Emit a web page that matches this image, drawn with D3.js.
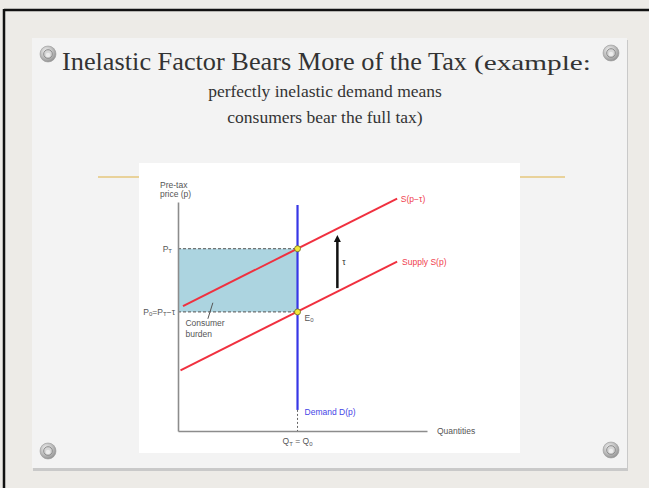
<!DOCTYPE html>
<meta charset="utf-8">
<script src="https://d3js.org/d3.v7.min.js"></script>
<style>
  body { margin: 0; background: #edebe7; }
</style>
<div id="my_dataviz"></div>
<script>

// ---- data (diagram values, in quantity / price units 0-100) ----
var titleLines = ["perfectly inelastic demand means", "consumers bear the full tax)"];
var supplyPts = [[1, 26.5], [88, 74]];        // Supply S(p)
var taxedPts = [[2, 54.5], [88, 101.5]];      // S(p - tau)
var demandQ = 48;                             // perfectly inelastic demand
var demandTop = 98.7, demandBottom = 9.2;
var priceT = 79.6, price0 = 52;               // P_T and P_0 = P_T - tau
var arrowQ = 64, arrowFrom = 62.4, arrowTo = 85.6;

var W = 649, H = 488;
var svg = d3.select("#my_dataviz")
    .append("svg")
    .attr("width", W)
    .attr("height", H);

var defs = svg.append("defs");
var grad = defs.append("radialGradient").attr("id", "screw").attr("cx", "40%").attr("cy", "35%").attr("r", "70%");
grad.append("stop").attr("offset", "0%").attr("stop-color", "#f4f4f4");
grad.append("stop").attr("offset", "60%").attr("stop-color", "#b9b9b9");
grad.append("stop").attr("offset", "100%").attr("stop-color", "#8d8d8d");

// outer background + black frame (only top/left visible)
svg.append("rect").attr("width", W).attr("height", H).attr("fill", "#edebe7");
svg.append("line").attr("x1", 4).attr("x2", W).attr("y1", 10).attr("y2", 10)
    .attr("stroke", "#111").attr("stroke-width", 2.5);
svg.append("line").attr("x1", 4).attr("x2", 4).attr("y1", 9).attr("y2", H)
    .attr("stroke", "#111").attr("stroke-width", 2.5);

// card with shadow
svg.append("rect").attr("x", 33).attr("y", 40).attr("width", 595).attr("height", 431)
    .attr("fill", "#c9c9c9");
svg.append("rect").attr("x", 32).attr("y", 38).attr("width", 595).attr("height", 430)
    .attr("fill", "#f3f3f3");

// gold rule under title
svg.append("line").attr("x1", 98).attr("x2", 565).attr("y1", 177).attr("y2", 177)
    .attr("stroke", "#e6c77c").attr("stroke-width", 1.5);

// screws
[[48, 54], [611, 53], [48, 451], [611, 450]].forEach(function(p) {
  var g = svg.append("g").attr("transform", "translate(" + p[0] + "," + p[1] + ")");
  g.append("circle").attr("r", 8).attr("fill", "url(#screw)").attr("stroke", "#999").attr("stroke-width", 0.6);
  g.append("circle").attr("r", 4.3).attr("fill", "#d6d6d6").attr("stroke", "#858585").attr("stroke-width", 0.9);
  g.append("circle").attr("r", 2.2).attr("cy", 1).attr("fill", "#ececec");
});

// title
var serif = "Liberation Serif, serif";
svg.append("text")
    .attr("x", 62).attr("y", 70)
    .attr("font-family", serif).attr("font-size", 26).attr("fill", "#333")
    .attr("textLength", 405).attr("lengthAdjust", "spacingAndGlyphs")
    .text("Inelastic Factor Bears More of the Tax");
svg.append("text")
    .attr("x", 474).attr("y", 70)
    .attr("font-family", serif).attr("font-size", 21).attr("fill", "#333")
    .attr("textLength", 117).attr("lengthAdjust", "spacingAndGlyphs")
    .text("(example:");
svg.selectAll(".sub")
    .data(titleLines)
    .enter().append("text")
    .attr("class", "sub")
    .attr("x", 325)
    .attr("y", function(d, i) { return 97 + i * 26; })
    .attr("text-anchor", "middle")
    .attr("font-family", serif)
    .attr("font-size", 17.5)
    .attr("fill", "#333")
    .text(function(d) { return d; });

// chart picture
svg.append("rect").attr("x", 139).attr("y", 163).attr("width", 381).attr("height", 290).attr("fill", "#fff");

var x = d3.scaleLinear().domain([0, 100]).range([178, 427]);
var y = d3.scaleLinear().domain([0, 100]).range([431, 202]);
var line = d3.line().x(function(d) { return x(d[0]); }).y(function(d) { return y(d[1]); });

var sans = "Liberation Sans, Arial, sans-serif";
var grey = "#555";

// consumer burden area
svg.append("rect")
    .attr("x", x(0)).attr("y", y(priceT))
    .attr("width", x(demandQ) - x(0)).attr("height", y(price0) - y(priceT))
    .attr("fill", "#acd4e0");

// dashed price levels
[priceT, price0].forEach(function(p) {
  svg.append("line")
      .attr("x1", x(0)).attr("x2", x(demandQ)).attr("y1", y(p)).attr("y2", y(p))
      .attr("stroke", "#555").attr("stroke-width", 1).attr("stroke-dasharray", "3,2");
});

// axes
var axisX = d3.axisBottom(x).tickValues([]).tickSizeOuter(0);
var axisY = d3.axisLeft(y).tickValues([]).tickSizeOuter(0);
svg.append("g").attr("transform", "translate(0," + y(0) + ")").call(axisX)
    .select(".domain").attr("stroke", "#8c8c8c").attr("stroke-width", 1.6);
svg.append("g").attr("transform", "translate(" + x(0) + ",0)").call(axisY)
    .select(".domain").attr("stroke", "#8c8c8c").attr("stroke-width", 1.6);

// demand (perfectly inelastic)
svg.append("line")
    .attr("x1", x(demandQ)).attr("x2", x(demandQ)).attr("y1", y(demandTop)).attr("y2", y(demandBottom))
    .attr("stroke", "#3737e6").attr("stroke-width", 2.2);
svg.append("line")
    .attr("x1", x(demandQ)).attr("x2", x(demandQ)).attr("y1", y(demandBottom)).attr("y2", y(0))
    .attr("stroke", "#666").attr("stroke-width", 1).attr("stroke-dasharray", "2,2");

// supply curves
[supplyPts, taxedPts].forEach(function(pts) {
  svg.append("path").datum(pts).attr("d", line)
      .attr("fill", "none").attr("stroke", "#f0303f").attr("stroke-width", 2);
});

// tax arrow
svg.append("line")
    .attr("x1", x(arrowQ)).attr("x2", x(arrowQ)).attr("y1", y(arrowFrom)).attr("y2", y(arrowTo) + 6)
    .attr("stroke", "#111").attr("stroke-width", 2.5);
svg.append("path")
    .attr("d", "M" + (x(arrowQ) - 3.5) + "," + (y(arrowTo) + 7) + "L" + x(arrowQ) + "," + y(arrowTo) + "L" + (x(arrowQ) + 3.5) + "," + (y(arrowTo) + 7) + "Z")
    .attr("fill", "#111");

// consumer burden pointer
svg.append("line").attr("x1", x(12)).attr("y1", y(49)).attr("x2", x(14)).attr("y2", y(56))
    .attr("stroke", "#555").attr("stroke-width", 1);

// equilibrium points
[price0, priceT].forEach(function(p) {
  svg.append("circle").attr("cx", x(demandQ)).attr("cy", y(p)).attr("r", 3)
      .attr("fill", "#f3e83a").attr("stroke", "#6b6b20").attr("stroke-width", 0.8);
});

// labels
function label(tx, ty, txt, color, anchor) {
  return svg.append("text").attr("x", tx).attr("y", ty)
      .attr("font-family", sans).attr("font-size", 8.5)
      .attr("fill", color || grey).attr("text-anchor", anchor || "start")
      .text(txt);
}
label(x(0) - 18, y(100) - 14, "Pre-tax");
label(x(0) - 18, y(100) - 5, "price (p)");
var pt = label(x(0) - 6, y(priceT) + 3, "P", grey, "end");
pt.append("tspan").attr("font-size", 6).attr("dy", 1.5).text("T");
var p0 = label(x(0) - 3, y(price0) + 3, "", grey, "end");
p0.append("tspan").text("P");
p0.append("tspan").attr("font-size", 6).attr("dy", 1.5).text("0");
p0.append("tspan").attr("dy", -1.5).text("=P");
p0.append("tspan").attr("font-size", 6).attr("dy", 1.5).text("T");
p0.append("tspan").attr("dy", -1.5).text("\u2212\u03c4");
label(x(3), y(price0) + 14, "Consumer");
label(x(3), y(price0) + 25, "burden");
var e0 = label(x(demandQ) + 7, y(price0) + 9, "E");
e0.append("tspan").attr("font-size", 6).attr("dy", 1.5).text("0");
label(x(arrowQ) + 5, y((arrowFrom + arrowTo) / 2) + 3, "\u03c4", "#333");
label(x(89.5), y(101.5) + 3, "S(p\u2212\u03c4)", "#f0404e");
label(x(90), y(74) + 3, "Supply S(p)", "#f0404e");
label(x(demandQ) + 7, y(demandBottom) + 5, "Demand D(p)", "#4545e6");
label(x(104), y(0) + 3, "Quantities");
var q = label(x(demandQ), y(0) + 13, "", grey, "middle");
q.append("tspan").text("Q");
q.append("tspan").attr("font-size", 6).attr("dy", 1.5).text("T");
q.append("tspan").attr("dy", -1.5).text(" = Q");
q.append("tspan").attr("font-size", 6).attr("dy", 1.5).text("0");

</script>
